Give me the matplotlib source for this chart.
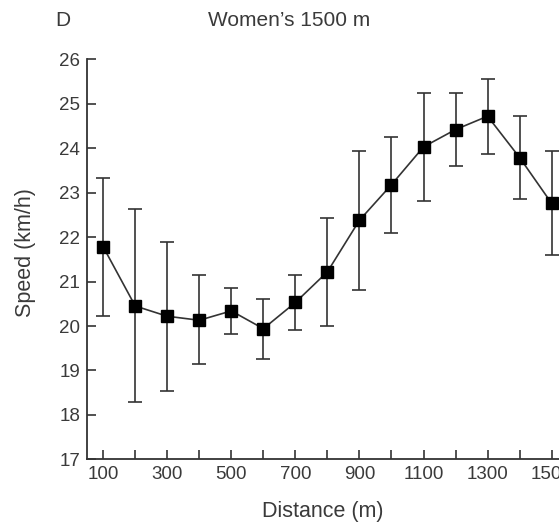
import matplotlib
matplotlib.use("Agg")
import matplotlib.pyplot as plt

plt.rcParams['font.family'] = ['Liberation Sans', 'DejaVu Sans']

distance = [100, 200, 300, 400, 500, 600, 700, 800, 900, 1000, 1100, 1200, 1300, 1400, 1500]
speed = [21.78, 20.45, 20.22, 20.13, 20.34, 19.94, 20.53, 21.22, 22.38, 23.18, 24.03, 24.42, 24.72, 23.79, 22.76]
upper = [23.34, 22.63, 21.90, 21.14, 20.86, 20.61, 21.14, 22.42, 23.94, 24.26, 25.25, 25.25, 25.55, 24.72, 23.94]
lower = [20.22, 18.28, 18.53, 19.14, 19.81, 19.25, 19.92, 20.00, 20.82, 22.10, 22.82, 23.61, 23.88, 22.85, 21.60]
x_tick_labels = ['100', '', '300', '', '500', '', '700', '', '900', '', '1100', '', '1300', '', '1500']
y_ticks = [17, 18, 19, 20, 21, 22, 23, 24, 25, 26]

err_low = [s - l for s, l in zip(speed, lower)]
err_high = [u - s for s, u in zip(speed, upper)]

ink = '#333333'
text_color = '#3a3a3a'
fig = plt.figure(figsize=(5.59, 5.25), dpi=100)
ax = fig.add_axes([0.156, 0.125, 0.844 * (1500 / 1473), 0.762])

ax.errorbar(distance, speed, yerr=[err_low, err_high], color=ink, ecolor=ink,
            elinewidth=1.2, capsize=4.7, capthick=1.2, linewidth=1.2,
            marker='s', markersize=8.0, markerfacecolor='black',
            markeredgecolor='black', zorder=3)

ax.set_xlim(50, 1550)
ax.set_ylim(17, 26)
ax.set_xticks(distance)
ax.set_xticklabels(x_tick_labels)
ax.set_yticks(y_ticks)
ax.tick_params(direction='in', length=6.5, width=1.2, color=ink, labelcolor=text_color,
               labelsize=13.5)
ax.tick_params(axis='x', pad=5)
ax.tick_params(axis='y', pad=5)
for side in ('top', 'right'):
    ax.spines[side].set_visible(False)
for side in ('left', 'bottom'):
    ax.spines[side].set_color(ink)
    ax.spines[side].set_linewidth(1.3)

ax.set_xlabel('Distance (m)', fontsize=15.5, color=text_color)
ax.set_ylabel('Speed (km/h)', fontsize=15.5, color=text_color)
ax.xaxis.set_label_coords(0.49, -0.105)
ax.yaxis.set_label_coords(-0.106, 0.516)

fig.text(289 / 559, 1 - 20.5 / 525, "Women\u2019s 1500 m", ha='center', va='center',
         fontsize=15, color=text_color)
fig.text(55 / 559, 1 - 20.5 / 525, 'D', ha='left', va='center', fontsize=15, color=text_color)

fig.savefig('out.png', dpi=100)
